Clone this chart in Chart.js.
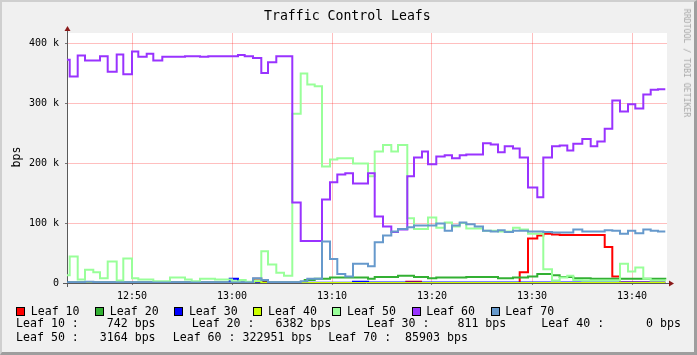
<!DOCTYPE html>
<html><head><meta charset="utf-8">
<script src="https://cdn.jsdelivr.net/npm/chart.js@4/dist/chart.umd.min.js"></script>
<style>
html,body{margin:0;padding:0;background:#f0f0f0;}
#wrap{position:relative;width:697px;height:355px;overflow:hidden;background:#f0f0f0;}
#frame{position:absolute;left:0;top:0;width:697px;height:355px;box-sizing:border-box;border-top:2px solid #cfcfcf;border-left:2px solid #cfcfcf;border-right:3px solid #9e9e9e;border-bottom:3px solid #9e9e9e;pointer-events:none;}
canvas{position:absolute;left:0;top:0;}
.t{position:absolute;font-family:'DejaVu Sans Mono',monospace;white-space:pre;color:#000;font-size:11.6px;line-height:14px;}
#title{font-size:13.2px;line-height:16px;left:264px;top:8px;}
#ylab{left:16px;top:157px;transform:translate(-50%,-50%) rotate(-90deg);}
#wm{left:687px;top:63px;font-size:8.2px;line-height:10px;color:#a8a8a8;transform:translate(-50%,-50%) rotate(90deg);}
.sq{position:absolute;width:7px;height:7px;border:1px solid #000;top:307px;}
</style></head>
<body><div id="wrap">
<canvas id="c" width="697" height="355"></canvas>
<div class="t" id="title">Traffic Control Leafs</div>
<div class="t" id="ylab">bps</div>
<div class="t" id="wm">RRDTOOL / TOBI OETIKER</div>
<div id="legend"></div>
<div id="frame"></div>
</div>
<script>
// time in minutes after 12:00, values in k (thousand bps)
const leaf10Time = [43.5, 62.17, 62.93, 63.6, 77.43, 78.9, 88.77, 89.6, 90.53, 91.13, 92.0, 92.77, 97.27, 98.03, 98.8, 103.33];
const leaf10Val  = [0, 7, 3, 0, 2, 0, 18, 74, 79, 82, 81, 80, 60, 11, 1, 1];

const leaf20Time = [43.5, 66.03, 67.27, 68.27, 69.8, 73.6, 74.27, 76.6, 78.2, 79.6, 80.43, 83.43, 86.6, 88.1, 89.6, 90.53, 92.0, 92.77, 94.13, 95.87, 103.33];
const leaf20Val  = [1, 1, 5, 7, 9, 7, 10, 12, 10, 8, 9, 10, 8, 9, 11, 15, 13, 10, 8, 7, 6];

const leaf30Time = [43.5, 59.77, 60.6, 72.1, 73.6, 103.33];
const leaf30Val  = [0.5, 7, 0.5, 2, 1, 1];

const leaf40Time = [43.5, 62.17, 62.93, 103.33];
const leaf40Val  = [0, 3, 0, 0];

const leaf50Time = [43.5, 43.77, 44.57, 45.3, 46.13, 46.8, 47.57, 48.47, 49.13, 50.0, 50.63, 52.13, 53.8, 55.3, 55.97, 56.8, 58.3, 60.0, 60.77, 61.37, 62.17, 62.93, 63.6, 64.43, 65.2, 66.03, 66.87, 67.53, 68.27, 69.0, 69.8, 70.53, 72.1, 73.6, 74.27, 75.1, 75.93, 76.6, 77.53, 78.2, 79.6, 80.43, 81.27, 82.0, 82.77, 83.43, 85.1, 86.6, 88.1, 88.77, 89.6, 91.13, 92.0, 92.77, 93.53, 94.13, 95.03, 98.8, 99.6, 100.33, 101.13, 101.87, 103.33];
const leaf50Val  = [13, 44, 6, 22, 18, 8, 36, 4, 41, 8, 6, 3, 9, 6, 3, 7, 6, 3, 5, 2, 4, 53, 31, 17, 12, 282, 349, 331, 328, 194, 206, 208, 199, 178, 219, 230, 219, 230, 108, 90, 109, 92, 101, 94, 100, 91, 87, 86, 92, 89, 82, 23, 4, 9, 12, 5, 4, 32, 19, 26, 7, 4, 3];

const leaf60Time = [43.5, 43.77, 44.57, 45.3, 46.8, 47.57, 48.47, 49.13, 50.0, 50.63, 51.47, 52.13, 53.03, 55.3, 56.8, 57.63, 60.6, 61.27, 62.1, 62.93, 63.6, 64.43, 66.03, 66.87, 69.0, 69.8, 70.53, 71.33, 72.1, 73.6, 74.27, 75.1, 75.93, 76.6, 77.53, 78.2, 79.0, 79.6, 80.43, 81.27, 82.0, 82.77, 83.43, 85.1, 85.87, 86.6, 87.27, 88.1, 88.77, 89.6, 90.53, 91.13, 92.0, 92.77, 93.53, 94.13, 95.03, 95.87, 96.53, 97.27, 98.03, 98.8, 99.6, 100.33, 101.13, 101.87, 102.6, 103.33];
const leaf60Val  = [372, 344, 379, 371, 378, 352, 381, 348, 386, 377, 382, 371, 377, 378, 377, 378, 380, 378, 375, 350, 368, 378, 134, 70, 139, 168, 181, 183, 166, 183, 111, 94, 85, 89, 178, 209, 219, 198, 211, 213, 208, 213, 214, 233, 231, 218, 228, 224, 209, 159, 143, 209, 228, 229, 221, 232, 240, 228, 236, 257, 304, 286, 298, 291, 314, 322, 323, 323];

const leaf70Time = [43.5, 45.3, 46.13, 62.1, 62.93, 63.6, 66.87, 67.53, 69.0, 69.8, 70.53, 71.33, 72.1, 73.6, 74.27, 75.1, 75.93, 76.6, 77.53, 78.2, 80.43, 81.27, 82.0, 82.77, 83.43, 84.27, 85.1, 85.87, 86.6, 87.27, 88.1, 89.6, 91.13, 92.0, 94.13, 95.03, 97.27, 98.03, 98.8, 99.6, 100.33, 101.13, 101.87, 102.6, 103.33];
const leaf70Val  = [1, 2, 1, 8, 5, 1, 3, 7, 69, 40, 15, 11, 32, 28, 68, 79, 86, 90, 93, 96, 99, 87, 96, 101, 98, 94, 87, 86, 88, 85, 87, 86, 85, 84, 89, 86, 88, 87, 82, 87, 83, 89, 87, 86, 86];

const seriesNames = ['Leaf 10', 'Leaf 20', 'Leaf 30', 'Leaf 40', 'Leaf 50', 'Leaf 60', 'Leaf 70'];
const lastValues  = [742, 6382, 811, 0, 3164, 322951, 85903];
const xTickValues = [50, 60, 70, 80, 90, 100];
const xTickLabels = ['12:50', '13:00', '13:10', '13:20', '13:30', '13:40'];
const yTickValues = [0, 100, 200, 300, 400];
const yTickLabels = ['0', '100 k', '200 k', '300 k', '400 k'];

const seriesColors = ['#ff0000', '#33b033', '#0000ff', '#ccff00', '#99ff99', '#9933ff', '#6699cc'];
const times = [leaf10Time, leaf20Time, leaf30Time, leaf40Time, leaf50Time, leaf60Time, leaf70Time];
const vals  = [leaf10Val, leaf20Val, leaf30Val, leaf40Val, leaf50Val, leaf60Val, leaf70Val];

// legend
const lg = document.getElementById('legend');
function addText(txt, x, y){ const d=document.createElement('div'); d.className='t'; d.style.left=x+'px'; d.style.top=y+'px'; d.textContent=txt; lg.appendChild(d); }
seriesNames.forEach((n,i)=>{
  const s=document.createElement('div'); s.className='sq'; s.style.left=(16+79.1*i)+'px'; s.style.background=seriesColors[i]; lg.appendChild(s);
  addText(n, 30.7+79.1*i, 304);
});
const row2X=[16,191.7,366.7,541.3], row3X=[16,172.7,328.3];
function entry(i){ return seriesNames[i]+' : '+String(lastValues[i]).padStart(6,' ')+' bps'; }
for(let i=0;i<4;i++) addText(entry(i), row2X[i], 316.3);
for(let i=0;i<3;i++) addText(entry(i+4), row3X[i], 329.7);

const framePlugin = {
  id:'framePlugin',
  beforeDraw(c){ const a=c.chartArea, x=c.ctx; x.save(); x.fillStyle='#ffffff'; x.fillRect(a.left,a.top,a.right-a.left,a.bottom-a.top); x.restore(); },
  beforeDatasetsDraw(c){
    const a=c.chartArea, x=c.ctx; x.save();
    x.strokeStyle='#5a5a5a'; x.lineWidth=1;
    x.beginPath(); x.moveTo(a.left+0.5, a.bottom+4); x.lineTo(a.left+0.5, a.top-3); x.stroke();
    x.beginPath(); x.moveTo(a.left-4, a.bottom+0.5); x.lineTo(a.right+3, a.bottom+0.5); x.stroke();
    x.fillStyle='#8b1a1a';
    x.beginPath(); x.moveTo(a.left+0.5, a.top-7); x.lineTo(a.left-2.5, a.top-2); x.lineTo(a.left+3.5, a.top-2); x.closePath(); x.fill();
    x.beginPath(); x.moveTo(a.right+7, a.bottom+0.5); x.lineTo(a.right+2, a.bottom-2.5); x.lineTo(a.right+2, a.bottom+3.5); x.closePath(); x.fill();
    x.restore();
  }
};

const datasets = seriesNames.map((n,i)=>({
  label:n,
  data: times[i].map((t,j)=>({x:t, y:vals[i][j]})),
  borderColor: seriesColors[i],
  backgroundColor: seriesColors[i],
  borderWidth: 2,
  pointRadius: 0,
  stepped: true,
  fill: false,
  order: 6-i
}));

const gridColor='rgba(255,0,0,0.25)';
new Chart(document.getElementById('c'), {
  type:'line',
  data:{datasets},
  plugins:[framePlugin],
  options:{
    responsive:false, animation:false, devicePixelRatio:1,
    layout:{padding:{left:0, top:33, right:30, bottom:0}},
    plugins:{legend:{display:false}, tooltip:{enabled:false}, title:{display:false}},
    scales:{
      x:{type:'linear', min:43.5, max:103.5,
        afterFit(s){ s.height=72; },
        afterBuildTicks(s){ s.ticks = xTickValues.map(v=>({value:v})); },
        border:{display:false},
        grid:{color:gridColor, tickColor:'#777', tickLength:2, drawTicks:true},
        ticks:{autoSkip:false, maxRotation:0, padding:5, color:'#000', font:{family:'DejaVu Sans Mono', size:10},
          callback:(v,i)=>xTickLabels[i]}
      },
      y:{type:'linear', min:0, max:416.67,
        afterFit(s){ s.width=67; },
        afterBuildTicks(s){ s.ticks = yTickValues.map(v=>({value:v})); },
        border:{display:false},
        grid:{color:gridColor, tickColor:'#777', tickLength:2, drawTicks:true},
        ticks:{autoSkip:false, padding:6, color:'#000', font:{family:'DejaVu Sans Mono', size:10},
          callback:(v,i)=>yTickLabels[i]}
      }
    }
  }
});
</script>
</body></html>
